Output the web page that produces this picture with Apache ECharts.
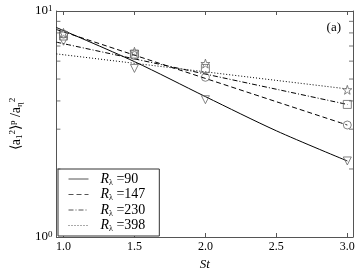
<!DOCTYPE html>
<html><head><meta charset="utf-8">
<script src="https://cdn.jsdelivr.net/npm/echarts@6/dist/echarts.min.js"></script>
<style>html,body{margin:0;padding:0;background:#fff}#c{width:360px;height:276px}</style>
</head><body><div id="c"></div>
<script>
// ---- data ----
var xTicks = [1.0, 1.5, 2.0, 2.5, 3.0];
var yMinorTicks = [2, 3, 4, 5, 6, 7, 8, 9];
// fitted curves (x, value)
var fit90  = [[0.95, 8.45], [1.5, 5.97], [2.0, 4.18], [2.5, 2.95], [3.0, 2.17]];
var fit147 = [[0.95, 8.28], [3.0, 3.13]];
var fit230 = [[0.95, 7.28], [3.0, 3.86]];
var fit398 = [[0.95, 6.46], [3.0, 4.52]];
// measured points
var St = [1.0, 1.5, 2.0, 3.0];
var pts90  = [7.35, 5.57, 4.05, 2.17];
var pts147 = [7.90, 6.35, 5.09, 3.13];
var pts230 = [7.75, 6.45, 5.57, 3.86];
var pts398 = [8.00, 6.60, 5.85, 4.48];

var FONT = 'Liberation Serif';
var AX = '#555';
var MK = '#666';
var xMin = 0.95, xMax = 3.04;

function pair(xs, ys) { return xs.map(function (x, i) { return [x, ys[i]]; }); }

var star = 'path://M0,-10 L2.35,-3.24 L9.51,-3.09 L3.8,1.24 L5.88,8.09 L0,4 L-5.88,8.09 L-3.8,1.24 L-9.51,-3.09 L-2.35,-3.24Z';

function lineSeries(name, data, type) {
  return { name: name, type: 'line', data: data, symbol: 'none', showSymbol: false, smooth: 0.3,
    lineStyle: { color: '#000', width: 1, type: type }, itemStyle: { color: '#000' },
    silent: true, z: 3 };
}
function markSeries(data, symbol, size, rot) {
  return { type: 'scatter', data: data, symbol: symbol, symbolSize: size, symbolRotate: rot || 0,
    itemStyle: { color: 'rgba(255,255,255,0)', borderColor: MK, borderWidth: 1 },
    silent: true, z: 4 };
}
function minorTickSeries(x, offset) {
  return { type: 'scatter', data: yMinorTicks.map(function (v) { return [x, v]; }),
    symbol: 'rect', symbolSize: [4, 1], symbolOffset: [offset, 0], clip: false,
    itemStyle: { color: AX }, silent: true, z: 5 };
}

var chart = echarts.init(document.getElementById('c'));
chart.setOption({
  animation: false,
  backgroundColor: '#fff',
  title: { text: '(a)', right: 14, top: 16,
    textStyle: { fontFamily: FONT, fontSize: 13, fontWeight: 'normal', color: '#000' } },
  grid: { left: 52, right: 7, top: 11, bottom: 33 },
  legend: {
    orient: 'vertical', left: 58, top: 169,
    data: ['R90', 'R147', 'R230', 'R398'],
    itemWidth: 20, itemHeight: 10, itemGap: 1,
    padding: [3, 14, 3, 10],
    borderColor: '#333', borderWidth: 1, backgroundColor: '#fff',
    itemStyle: { opacity: 0 },
    lineStyle: { width: 1, color: '#555' },
    formatter: function (n) { return '{r|R}{s|λ}{t| =' + n.slice(1) + '}'; },
    textStyle: {
      color: '#000', fontFamily: FONT, fontSize: 13, padding: [0, 0, 0, 7],
      rich: {
        r: { fontFamily: FONT, fontSize: 14, fontStyle: 'italic', lineHeight: 15 },
        s: { fontFamily: FONT, fontSize: 8, lineHeight: 8, verticalAlign: 'bottom' },
        t: { fontFamily: FONT, fontSize: 14, lineHeight: 15 }
      }
    }
  },
  xAxis: [{
    type: 'value', min: xMin, max: xMax, interval: 0.5,
    name: 'St', nameLocation: 'middle', nameGap: 21,
    nameTextStyle: { fontFamily: FONT, fontSize: 13, fontStyle: 'italic', color: '#000' },
    axisLine: { show: true, lineStyle: { color: AX, width: 1 } },
    axisTick: { show: true, inside: true, length: 4, lineStyle: { color: AX },
      customValues: xTicks },
    axisLabel: { fontFamily: FONT, fontSize: 12, color: '#000', margin: 4,
      customValues: xTicks, formatter: function (v) { return v.toFixed(1); } },
    splitLine: { show: false }
  }, {
    type: 'value', position: 'top', min: xMin, max: xMax,
    axisLine: { show: true, lineStyle: { color: AX, width: 1 } },
    axisTick: { show: true, inside: true, length: 4, lineStyle: { color: AX }, customValues: xTicks },
    axisLabel: { show: false }, splitLine: { show: false }
  }],
  yAxis: [{
    type: 'log', logBase: 10, min: 1, max: 10,
    name: '{t|⟨a}{b|1}{p|2}{t|⟩}{p|p}{t| /a}{b|η}{p|2}',
    nameLocation: 'middle', nameGap: 32, nameRotate: 90,
    nameTextStyle: { color: '#000', fontFamily: FONT,
      rich: {
        t: { fontFamily: FONT, fontSize: 14, lineHeight: 16 },
        p: { fontFamily: FONT, fontSize: 9, lineHeight: 9, verticalAlign: 'top' },
        b: { fontFamily: FONT, fontSize: 9, lineHeight: 9, verticalAlign: 'bottom' }
      } },
    axisLine: { show: true, lineStyle: { color: AX, width: 1 } },
    axisTick: { show: true, inside: true, length: 4, lineStyle: { color: AX } },
    axisLabel: { color: '#000', margin: 4,
      formatter: function (v) { return '{b|10}{e|' + Math.round(Math.log10(v)) + '}'; },
      rich: {
        b: { fontFamily: FONT, fontSize: 13, lineHeight: 14 },
        e: { fontFamily: FONT, fontSize: 9, lineHeight: 9, verticalAlign: 'top' }
      } },
    splitLine: { show: false }
  }, {
    type: 'log', logBase: 10, min: 1, max: 10, position: 'right',
    axisLine: { show: true, lineStyle: { color: AX, width: 1 } },
    axisTick: { show: false }, axisLabel: { show: false }, splitLine: { show: false }
  }],
  series: [
    lineSeries('R90', fit90, 'solid'),
    lineSeries('R147', fit147, [5, 3]),
    lineSeries('R230', fit230, [5, 2, 1, 2]),
    lineSeries('R398', fit398, [1, 2]),
    markSeries(pair(St, pts90), 'triangle', 8, 180),
    markSeries(pair(St, pts147), 'circle', 8),
    markSeries(pair(St, pts230), 'rect', 8),
    markSeries(pair(St, pts398), star, 9),
    minorTickSeries(xMin, 2),
    minorTickSeries(xMax, -2)
  ]
});
</script></body></html>
